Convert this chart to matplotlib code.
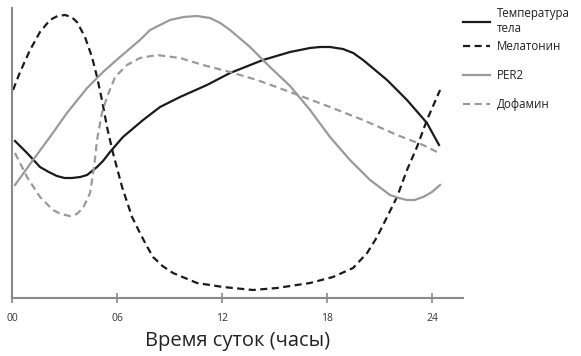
import matplotlib
matplotlib.use("Agg")
import matplotlib.pyplot as plt

plt.rcParams['font.family'] = ['Open Sans', 'DejaVu Sans']

# values: hours of day vs. relative level
temp_h = [0.17, 0.86, 1.6, 2.1, 2.57, 3.0, 3.43, 3.9, 4.29, 4.86, 5.2, 5.6, 6.34, 7.49, 8.46,
          9.6, 11.14, 12.46, 14.34, 15.89, 17.03, 17.6, 18.17, 18.91, 19.5, 20.06, 21.43,
          22.57, 23.71, 24.4]
temp_v = [157, 145, 131, 126, 122, 120, 120, 121, 123, 131, 137, 146, 161, 178, 191,
          201, 213, 225, 238, 246, 250, 251, 251, 249, 245, 238, 218,
          198, 175, 153]

mel_h = [0.06, 0.46, 1.03, 1.6, 2.17, 2.6, 3.03, 3.4, 3.71, 4.17, 4.57, 4.86, 5.14, 5.43,
         5.77, 6.29, 6.86, 7.31, 7.7, 8.06, 8.6, 9.2, 10.57, 12.06, 13.77, 15.14, 17.03,
         18.34, 19.49, 20.29, 20.86, 21.43, 22.0, 22.57, 23.14, 23.71, 24.46]
mel_v = [208, 226, 248, 266, 278, 282, 283, 281, 276, 261, 241, 221, 198, 171,
         145, 111, 81, 65, 52, 41, 32, 25, 15, 11, 8, 10, 15,
         21, 30, 45, 61, 81, 101, 128, 151, 178, 208]

per2_h = [0.17, 1.2, 2.17, 3.14, 4.29, 5.2, 6.17, 7.31, 7.89, 9.03, 9.8, 10.57, 11.31,
          11.9, 12.46, 13.6, 14.74, 15.89, 17.03, 18.17, 19.31, 20.46, 21.6, 22.1, 22.57,
          23.0, 23.49, 24.0, 24.46]
per2_v = [113, 138, 161, 185, 210, 226, 241, 258, 268, 278, 281, 282, 280,
          275, 268, 251, 231, 212, 188, 161, 138, 118, 103, 100, 98,
          98, 101, 106, 113]

dop_h = [0.17, 0.86, 1.6, 2.34, 2.8, 3.31, 3.7, 4.06, 4.46, 4.69, 4.86, 5.14, 5.43, 5.89,
         6.57, 7.31, 8.29, 9.6, 10.91, 12.46, 14.0, 15.89, 18.17, 20.06, 22.0, 23.49, 24.29]
dop_v = [145, 121, 101, 88, 84, 82, 84, 90, 105, 131, 158, 185, 201, 221,
         233, 240, 243, 240, 233, 226, 218, 206, 191, 178, 163, 153, 146]

tick_pos = [0, 6, 12, 18, 24]
tick_labels = ["00", "06", "12", "18", "24"]

dark = "#1b1b1b"
grey = "#9a9a9a"

fig = plt.figure(figsize=(5.81, 3.56), dpi=100)
ax = fig.add_axes([12 / 581, 1 - 298 / 356, (463 - 12) / 581, 290 / 356])

l_temp, = ax.plot(temp_h, temp_v, color=dark, lw=1.6)
l_mel, = ax.plot(mel_h, mel_v, color=dark, lw=1.6, ls=(0, (3.2, 2)))
l_per2, = ax.plot(per2_h, per2_v, color=grey, lw=1.6)
l_dop, = ax.plot(dop_h, dop_v, color=grey, lw=1.6, ls=(0, (3.2, 2)))

ax.set_xlim(0, 25.77)
ax.set_ylim(0, 290)

for side in ["top", "right"]:
    ax.spines[side].set_visible(False)
for side in ["left", "bottom"]:
    ax.spines[side].set_color("#8a8a8a")
    ax.spines[side].set_linewidth(1.5)

ax.set_yticks([])
ax.set_xticks(tick_pos)
ax.set_xticklabels(tick_labels)
ax.tick_params(axis="x", direction="inout", length=7, width=1.2, color="#8a8a8a",
               labelsize=7.5, labelcolor="#333333", pad=7)

ax.set_xlabel("Время суток (часы)", fontsize=14.5, color="#222222", labelpad=5)

# legend in two parts: the two-line entry sits closer to the rest than a single legend allows
leg_opts = dict(frameon=False, fontsize=8.3, handlelength=2.4, handletextpad=0.6,
                borderaxespad=0)
leg1 = fig.legend([l_temp], ["Температура\nтела"], loc="upper left",
                  bbox_to_anchor=(458 / 581, 1 - 2 / 356), **leg_opts)
leg2 = fig.legend([l_mel, l_per2, l_dop], ["Мелатонин", "PER2", "Дофамин"],
                  loc="center left", bbox_to_anchor=(458 / 581, 1 - 75.5 / 356),
                  labelspacing=1.35, **leg_opts)
for leg in (leg1, leg2):
    for t in leg.get_texts():
        t.set_color("#222222")

fig.savefig("out.png", dpi=100)
